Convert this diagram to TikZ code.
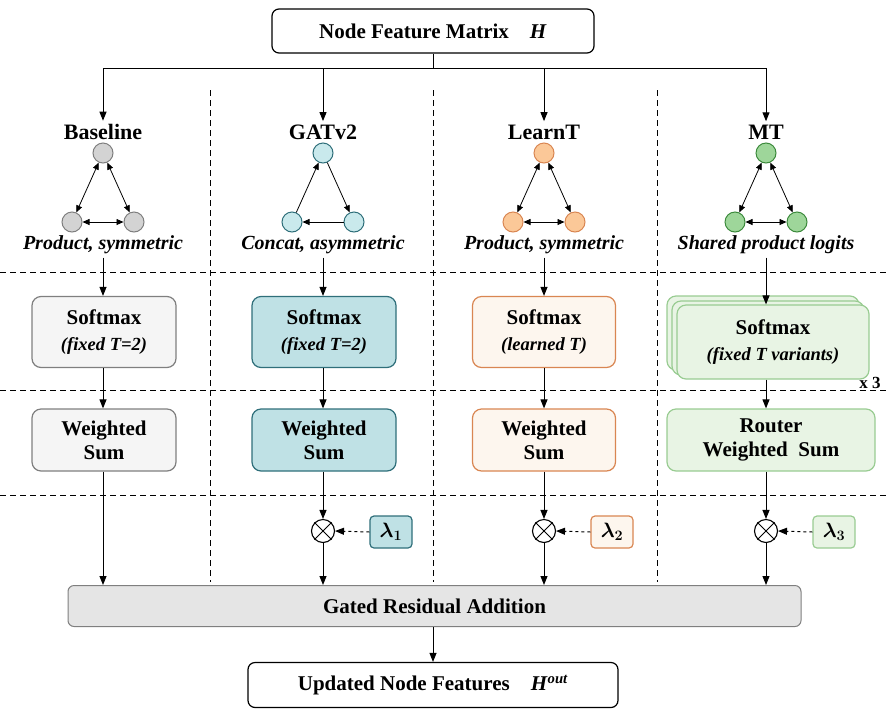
\documentclass[tikz,border=0pt]{standalone}
\usepackage{bm}
\usepackage{fontspec}
\setmainfont{Liberation Serif}
\usetikzlibrary{arrows.meta}
\definecolor{gF}{HTML}{F5F5F5}\definecolor{gD}{HTML}{7F7F7F}\definecolor{gC}{HTML}{D3D3D3}
\definecolor{tF}{HTML}{BFE1E5}\definecolor{tD}{HTML}{2F6F7A}\definecolor{tC}{HTML}{C9E9EC}
\definecolor{oF}{HTML}{FDF6EE}\definecolor{oD}{HTML}{D98652}\definecolor{oC}{HTML}{FBC898}
\definecolor{mF}{HTML}{E8F4E4}\definecolor{mD}{HTML}{99CC92}\definecolor{mC}{HTML}{9ED69A}\definecolor{mCD}{HTML}{3C8A3C}
\tikzset{
 arr/.style={-{Triangle[length=9pt,width=7pt]},line width=1pt},
 barr/.style={{Triangle[length=7pt,width=6pt]}-{Triangle[length=7pt,width=6pt]},line width=0.8pt},
 sarr/.style={-{Triangle[length=7pt,width=6pt]},line width=0.8pt},
 sep/.style={line width=0.8pt,dash pattern=on 6pt off 4pt},
 bx/.style={draw,rounded corners=9pt,line width=1.2pt,align=center,font=\bfseries\fontsize{21}{24}\selectfont,inner sep=0pt},
 tit/.style={font=\bfseries\fontsize{22}{24}\selectfont},
 captxt/.style={font=\bfseries\itshape\fontsize{20}{22}\selectfont},
 gn/.style={circle,minimum size=20pt,inner sep=0pt,line width=1pt},
 ot/.style={circle,draw,minimum size=23pt,inner sep=0pt,line width=1.1pt},
}
\newcommand{\sml}[1]{{\itshape\fontsize{18.5}{21}\selectfont #1}}
\begin{document}
\begin{tikzpicture}[x=1pt,y=-1pt]
\useasboundingbox (0,0) rectangle (886,721);
\foreach \x in {210,433,657} \draw[sep] (\x,90) -- (\x,582);
\foreach \y in {272,390,495} \draw[sep] (0,\y) -- (886,\y);
\node[bx,rounded corners=7pt,minimum width=322pt,minimum height=44pt,fill=white] (top) at (433,31) {Node Feature Matrix\quad \textit{H}};
\coordinate (j) at (433,68);
\draw[line width=1pt] (top.south) -- (j);
\draw[line width=1pt] (103,68) -- (766,68);
\foreach \x/\n/\t in {103/a/Baseline,323/b/GATv2,544/c/LearnT,766/d/MT}{
 \coordinate (s\n) at (\x,68);
 \node[tit] (t\n) at (\x,132) {\t};
 \draw[arr] (s\n) -- (t\n.north);
}
\foreach \x/\n/\f/\d in {103/a/gC/gD,323/b/tC/tD,544/c/oC/oD,766/d/mC/mCD}{
 \node[gn,fill=\f,draw=\d] (\n1) at (\x,153) {};
 \node[gn,fill=\f,draw=\d] (\n2) at (\x-31,222) {};
 \node[gn,fill=\f,draw=\d] (\n3) at (\x+31,222) {};
}
\foreach \n in {a,c,d}{\draw[barr] (\n1) -- (\n2); \draw[barr] (\n1) -- (\n3); \draw[barr] (\n2) -- (\n3);}
\draw[sarr] (b2) -- (b1); \draw[sarr] (b1) -- (b3); \draw[sarr] (b3) -- (b2);
\node[captxt] (ca) at (103,245) {Product, symmetric};
\node[captxt] (cb) at (323,245) {Concat, asymmetric};
\node[captxt] (cc) at (544,245) {Product, symmetric};
\node[captxt] (cd) at (766,245) {Shared product logits};
\node[bx,fill=gF,draw=gD,minimum width=144pt,minimum height=71pt] (sa) at (104,332) {Softmax\\[2pt]\sml{(fixed T=2)}};
\node[bx,fill=tF,draw=tD,minimum width=144pt,minimum height=71pt] (sb) at (324,332) {Softmax\\[2pt]\sml{(fixed T=2)}};
\node[bx,fill=oF,draw=oD,minimum width=143pt,minimum height=71pt] (sc) at (544,332) {Softmax\\[2pt]\sml{(learned T)}};
\node[bx,fill=mF,draw=mD,minimum width=192pt,minimum height=74pt] (sd3) at (763,333) {};
\node[bx,fill=mF,draw=mD,minimum width=192pt,minimum height=74pt] (sd2) at (768,338) {};
\node[bx,fill=mF,draw=mD,minimum width=192pt,minimum height=74pt] (sd) at (773,342) {Softmax\\[2pt]\sml{(fixed T variants)}};
\node[font=\bfseries\fontsize{17}{18}\selectfont] (x3) at (870,383) {x 3};
\node[bx,fill=gF,draw=gD,minimum width=144pt,minimum height=62pt] (wa) at (104,440) {Weighted\\Sum};
\node[bx,fill=tF,draw=tD,minimum width=144pt,minimum height=62pt] (wb) at (324,440) {Weighted\\Sum};
\node[bx,fill=oF,draw=oD,minimum width=143pt,minimum height=62pt] (wc) at (544,440) {Weighted\\Sum};
\node[bx,fill=mF,draw=mD,minimum width=208pt,minimum height=62pt] (wd) at (771,440) {Router\\Weighted\ \ Sum};
\foreach \n/\x in {a/103,b/323,c/544,d/766}{
 \draw[arr] (c\n.south -| \x,0) -- (s\n.north -| \x,0);
 \draw[arr] (s\n.south -| \x,0) -- (w\n.north -| \x,0);
}
\node[draw=gD,fill=gC!60,rounded corners=6pt,line width=1pt,minimum width=733pt,minimum height=41pt,font=\bfseries\fontsize{21}{24}\selectfont] (g) at (434.5,606) {Gated Residual Addition};
\draw[arr] (wa.south -| 103,0) -- (g.north -| 103,0);
\foreach \n/\x/\l/\f/\d in {b/323/1/tF/tD,c/544/2/oF/oD,d/766/3/mF/mD}{
 \node[ot] (o\n) at (\x,531) {};
 \draw[line width=1pt] (o\n.north west) -- (o\n.south east) (o\n.north east) -- (o\n.south west);
 \node[draw=\d,fill=\f,rounded corners=4pt,line width=1.2pt,minimum width=42pt,minimum height=32pt,inner sep=0pt,font=\fontsize{22}{24}\selectfont] (l\n) at (\x+68,532) {$\bm{\lambda_{\l}}$};
 \draw[arr] (w\n.south -| \x,0) -- (o\n.north);
 \draw[arr,dashed] (l\n.west) -- (o\n.east);
 \draw[arr] (o\n.south) -- (g.north -| \x,0);
}
\node[bx,rounded corners=7pt,fill=white,minimum width=370pt,minimum height=45pt] (bot) at (433,685) {Updated Node Features\quad \textit{H}\textsuperscript{\textit{out}}};
\draw[arr] (g.south -| bot.north) -- (bot.north);
\end{tikzpicture}
\end{document}
